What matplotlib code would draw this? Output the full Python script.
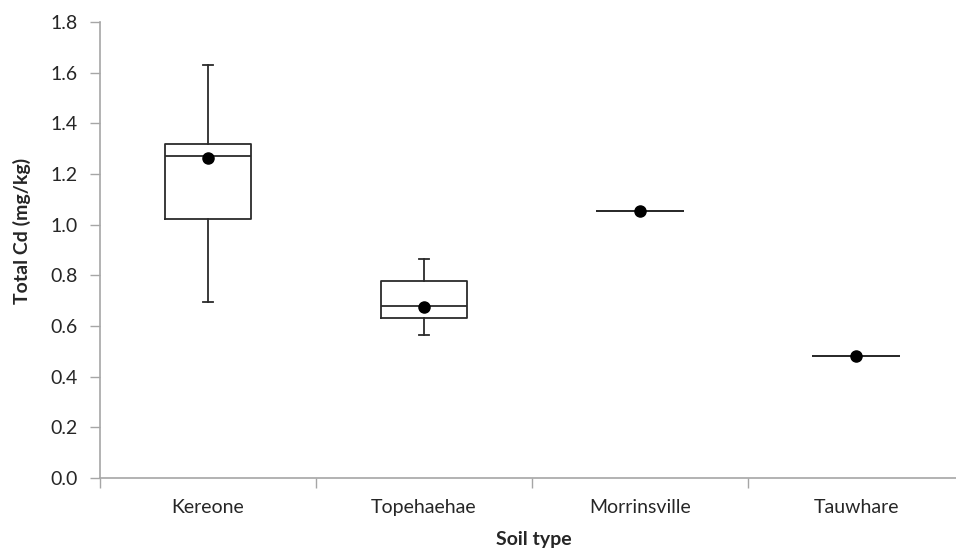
import matplotlib
matplotlib.use('Agg')
import matplotlib.pyplot as plt

# 数据：箱线图统计量
soil_types = ['Kereone', 'Topehaehae', 'Morrinsville', 'Tauwhare']
whisker_low = [0.694, 0.566, 1.054, 0.482]
q1 = [1.021, 0.633, 1.054, 0.482]
median = [1.271, 0.680, 1.054, 0.482]
q3 = [1.320, 0.777, 1.054, 0.482]
whisker_high = [1.632, 0.865, 1.054, 0.482]
mean = [1.263, 0.676, 1.054, 0.482]
y_ticks = [0.0, 0.2, 0.4, 0.6, 0.8, 1.0, 1.2, 1.4, 1.6, 1.8]

plt.rcParams['font.family'] = ['Lato', 'DejaVu Sans']
text_color = '#262626'
line_color = '#2b2b2b'
spine_color = '#a6a6a6'
fs = 14

W, H = 956, 548
fig = plt.figure(figsize=(W / 100, H / 100), dpi=100)
ax = fig.add_axes([100 / W, 70 / H, 1 - 100 / W, (478 - 22) / H])

stats = []
for i, name in enumerate(soil_types):
    stats.append(dict(label=name, whislo=whisker_low[i], q1=q1[i], med=median[i],
                      q3=q3[i], whishi=whisker_high[i], mean=mean[i], fliers=[]))

positions = list(range(len(soil_types)))
ax.bxp(stats, positions=positions, widths=0.4, showmeans=True,
       boxprops=dict(color=line_color, linewidth=1.3),
       medianprops=dict(color=line_color, linewidth=1.3),
       whiskerprops=dict(color=line_color, linewidth=1.3),
       capprops=dict(color=line_color, linewidth=1.3),
       meanprops=dict(marker='o', markerfacecolor='black', markeredgecolor='black',
                      markersize=8),
       capwidths=0.05, manage_ticks=False)

ax.set_xlim(-0.5, 3.5 - 8 / 216)
ax.set_ylim(0, 1.8)
ax.set_yticks(y_ticks)
ax.set_yticklabels([f'{v:.1f}' for v in y_ticks])

# 类别标签放在中间，刻度线放在类别边界
ax.set_xticks(positions)
ax.set_xticklabels(soil_types)
ax.set_xticks([-0.5, 0.5, 1.5, 2.5], minor=True)
ax.tick_params(axis='x', which='major', length=0, pad=15, labelsize=fs, labelcolor=text_color)
ax.tick_params(axis='x', which='minor', length=7, width=1, color=spine_color, direction='out')
ax.tick_params(axis='y', length=7, width=1, color=spine_color, pad=9, labelsize=fs,
               labelcolor=text_color)

for side in ['top', 'right']:
    ax.spines[side].set_visible(False)
for side in ['left', 'bottom']:
    ax.spines[side].set_color(spine_color)
    ax.spines[side].set_linewidth(1.2)

fig.text(22 / W, 1 - 231 / H, 'Total Cd (mg/kg)', rotation=90, ha='center', va='center',
         fontsize=fs, fontweight='bold', color=text_color)
fig.text(534 / W, 1 - 540 / H, 'Soil type', ha='center', va='center',
         fontsize=fs, fontweight='bold', color=text_color)

fig.savefig('out.png', dpi=100)
